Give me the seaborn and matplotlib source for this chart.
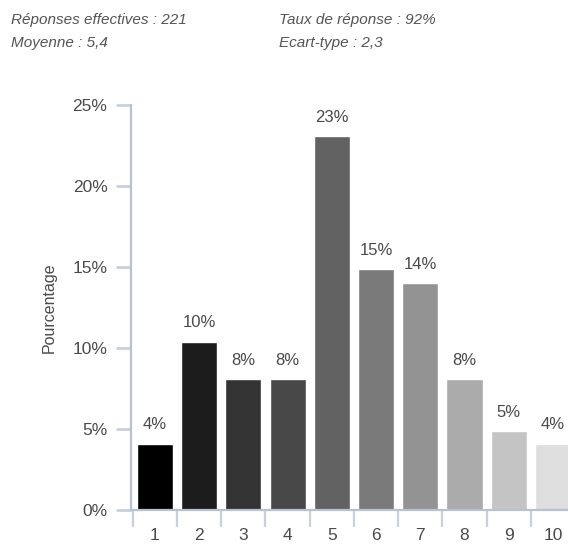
import matplotlib
matplotlib.use("Agg")
import matplotlib.pyplot as plt
from matplotlib.ticker import FixedLocator, PercentFormatter
import seaborn as sns
import pandas as pd

# Survey results: share of answers for each score
categories = ["1", "2", "3", "4", "5", "6", "7", "8", "9", "10"]
percentages = [4.1, 10.4, 8.1, 8.1, 23.1, 14.9, 14.0, 8.1, 4.9, 4.1]
value_labels = ["4%", "10%", "8%", "8%", "23%", "15%", "14%", "8%", "5%", "4%"]
bar_colors = ["#000000", "#1c1c1c", "#333333", "#484848", "#626262",
              "#7a7a7a", "#939393", "#ababab", "#c4c4c4", "#dedede"]
y_ticks = [0, 5, 10, 15, 20, 25]

summary_left = ["Réponses effectives : 221", "Moyenne : 5,4"]
summary_right = ["Taux de réponse : 92%", "Ecart-type : 2,3"]

sns.set_theme(style="white")
plt.rcParams["font.family"] = ["Liberation Sans", "DejaVu Sans"]

text_color = "#4a4a4a"
axis_color = "#b9c1d1"
tick_color = "#c9d0dc"

df = pd.DataFrame({"note": categories, "pct": percentages})

fig = plt.figure(figsize=(5.68, 5.45), dpi=100)
ax = fig.add_axes([131 / 568, 35 / 545, 1 - 131 / 568, 405 / 545])

sns.barplot(data=df, x="note", y="pct", hue="note", palette=bar_colors,
            legend=False, width=0.815, ax=ax, saturation=1)

ax.set_xlim(-0.54, 9.34)
ax.set_ylim(0, 25)

for spine in ["top", "right"]:
    ax.spines[spine].set_visible(False)
for spine in ["left", "bottom"]:
    ax.spines[spine].set_color(axis_color)
    ax.spines[spine].set_linewidth(1.6)

ax.yaxis.set_major_locator(FixedLocator(y_ticks))
ax.yaxis.set_major_formatter(PercentFormatter(decimals=0))
ax.tick_params(axis="y", which="major", left=True, direction="out", length=11,
               width=2.0, color=tick_color, labelsize=12.5, labelcolor=text_color,
               pad=6)

# category labels centred under bars, tick marks between them
ax.tick_params(axis="x", which="major", bottom=True, length=0, labelsize=12.5,
               labelcolor=text_color, pad=13)
ax.xaxis.set_minor_locator(FixedLocator([i - 0.5 for i in range(len(categories) + 1)]))
ax.tick_params(axis="x", which="minor", bottom=True, direction="out", length=12,
               width=1.6, color=tick_color)

ax.set_xlabel("")
ax.set_ylabel("Pourcentage", fontsize=11.5, color=text_color, labelpad=11)

for i, (v, lab) in enumerate(zip(percentages, value_labels)):
    ax.annotate(lab, (i, v), xytext=(0, 8), textcoords="offset points",
                ha="center", va="bottom", fontsize=12, color=text_color,
                annotation_clip=False)

for j, s in enumerate(summary_left):
    fig.text(11 / 568, 1 - (20 + 23 * j) / 545, s, ha="left", va="center",
             fontsize=11, style="italic", color="#555555")
for j, s in enumerate(summary_right):
    fig.text(279 / 568, 1 - (20 + 23 * j) / 545, s, ha="left", va="center",
             fontsize=11, style="italic", color="#555555")

fig.savefig("out.png", dpi=100)
